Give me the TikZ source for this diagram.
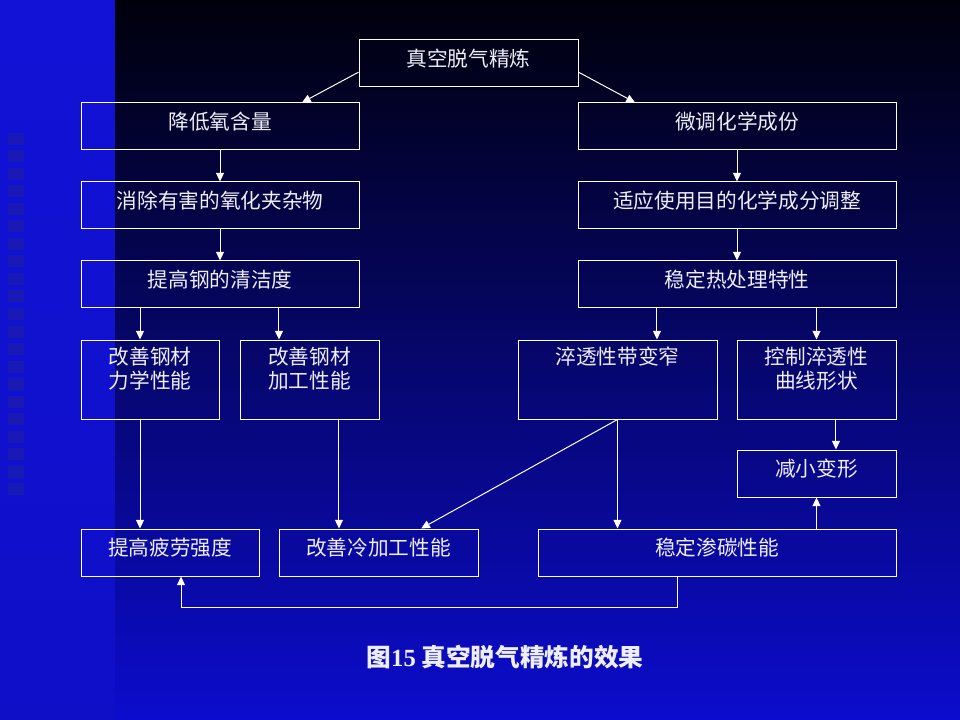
\documentclass[tikz,border=0pt]{standalone}
\usepackage{fontspec}
\setmainfont{Noto Sans CJK SC}
\newfontfamily\capnum{Liberation Serif}
\usetikzlibrary{arrows.meta}
\definecolor{bgtop}{RGB}{0,0,12}
\definecolor{bgmid}{RGB}{10,10,165}
\definecolor{bgbot}{RGB}{12,12,205}
\definecolor{striptop}{RGB}{18,18,215}
\definecolor{stripmid}{RGB}{12,12,120}
\definecolor{stripbot}{RGB}{15,15,200}
\definecolor{sq}{RGB}{28,28,175}
\definecolor{txt}{RGB}{238,238,248}
\begin{document}
\begin{tikzpicture}[x=0.75pt,y=-0.75pt,
    every node/.append style={text=txt},
    box/.style={draw=white,line width=0.75pt,rectangle,align=center,inner sep=0pt,
      font=\fontsize{15.5}{18}\selectfont},
    one/.style={box,minimum height=35.25pt,text height=11pt,text depth=7pt},
    two/.style={box,minimum height=59.25pt},
    arr/.style={-{Triangle[width=6pt,length=6.5pt]},line width=0.75pt,white}]
  \useasboundingbox (0,0) rectangle (960,720);

  % background
  \shade[top color=striptop,middle color=stripmid,bottom color=stripbot] (0,0) rectangle (115,720);
  \foreach \i in {0,...,20}
    \fill[sq,opacity=0.8] (8,133+17.5*\i) rectangle ++(16,12);
  \shade[top color=bgtop,middle color=bgmid,bottom color=bgbot] (115,0) rectangle (960,720);

  % boxes
  \node[one,minimum width=164.25pt] (Refine) at (468.5,63.5) {真空脱气精炼};
  \node[one,minimum width=208.5pt] (LowerO) at (220,126.5) {降低氧含量};
  \node[one,minimum width=238.5pt] (FineTune) at (737,126.5) {微调化学成份};
  \node[one,minimum width=208.5pt] (RemoveInc) at (220,205.5) {消除有害的氧化夹杂物};
  \node[one,minimum width=238.5pt] (AdjustComp) at (737,205.5) {适应使用目的化学成分调整};
  \node[one,minimum width=208.5pt] (Clean) at (220,284.5) {提高钢的清洁度};
  \node[one,minimum width=238.5pt] (HeatTreat) at (737,284.5) {稳定热处理特性};

  \node[two,minimum width=103.5pt] (Mech) at (150,379.5) {改善钢材\\力学性能\\~};
  \node[two,minimum width=104.25pt] (Work) at (309.5,379.5) {改善钢材\\加工性能\\~};
  \node[two,minimum width=149.25pt] (Band) at (617.5,379.5) {淬透性带变窄\\~\\~};
  \node[two,minimum width=119.25pt] (Curve) at (816.5,379.5) {控制淬透性\\曲线形状\\~};
  \node[one,minimum width=119.25pt] (Deform) at (816.5,473.5) {减小变形};

  \node[one,minimum width=133.5pt] (Fatigue) at (170,552.5) {提高疲劳强度};
  \node[one,minimum width=149.25pt] (ColdWork) at (378.5,552.5) {改善冷加工性能};
  \node[one,minimum width=268.5pt] (Carburize) at (717,552.5) {稳定渗碳性能};

  \node[font=\bfseries\fontsize{18.5}{22}\selectfont] (Caption) at (505,657)
    {图{\capnum\bfseries 15} 真空脱气精炼的效果};

  % arrows
  \coordinate (m1) at ([xshift=-7.5pt]Mech.north);
  \coordinate (m2) at ([xshift=-7.5pt]Mech.south);
  \coordinate (w1) at ([xshift=-22.9pt]Work.north);
  \coordinate (w2) at ([xshift=22.1pt]Work.south);
  \coordinate (b1) at ([xshift=29.6pt]Band.north);
  \coordinate (c1) at ([xshift=14.6pt]Curve.south);

  \draw[arr] ([yshift=-6.5pt]Refine.west) -- ([xshift=61.5pt]LowerO.north);
  \draw[arr] ([yshift=-6.5pt]Refine.east) -- ([xshift=-76.5pt]FineTune.north);
  \draw[arr] (LowerO.south) -- (RemoveInc.north);
  \draw[arr] (FineTune.south) -- (AdjustComp.north);
  \draw[arr] (RemoveInc.south) -- (Clean.north);
  \draw[arr] (AdjustComp.south) -- (HeatTreat.north);

  \draw[arr] (m1 |- Clean.south) -- (m1);
  \draw[arr] (w1 |- Clean.south) -- (w1);
  \draw[arr] (b1 |- HeatTreat.south) -- (b1);
  \draw[arr] (Curve.north |- HeatTreat.south) -- (Curve.north);

  \draw[arr] (m2) -- (m2 |- Fatigue.north);
  \draw[arr] (w2) -- (w2 |- ColdWork.north);
  \draw[arr] (Band.south) -- ([xshift=32pt]ColdWork.north);
  \draw[arr] (Band.south) -- (Band.south |- Carburize.north);
  \draw[arr] (c1) -- (c1 |- Deform.north);
  \draw[arr] (Carburize.north -| Deform.south) -- (Deform.south);
  \draw[arr] ([xshift=-30pt]Carburize.south) -- ++(0,31) -| ([xshift=8.25pt]Fatigue.south);
\end{tikzpicture}
\end{document}
